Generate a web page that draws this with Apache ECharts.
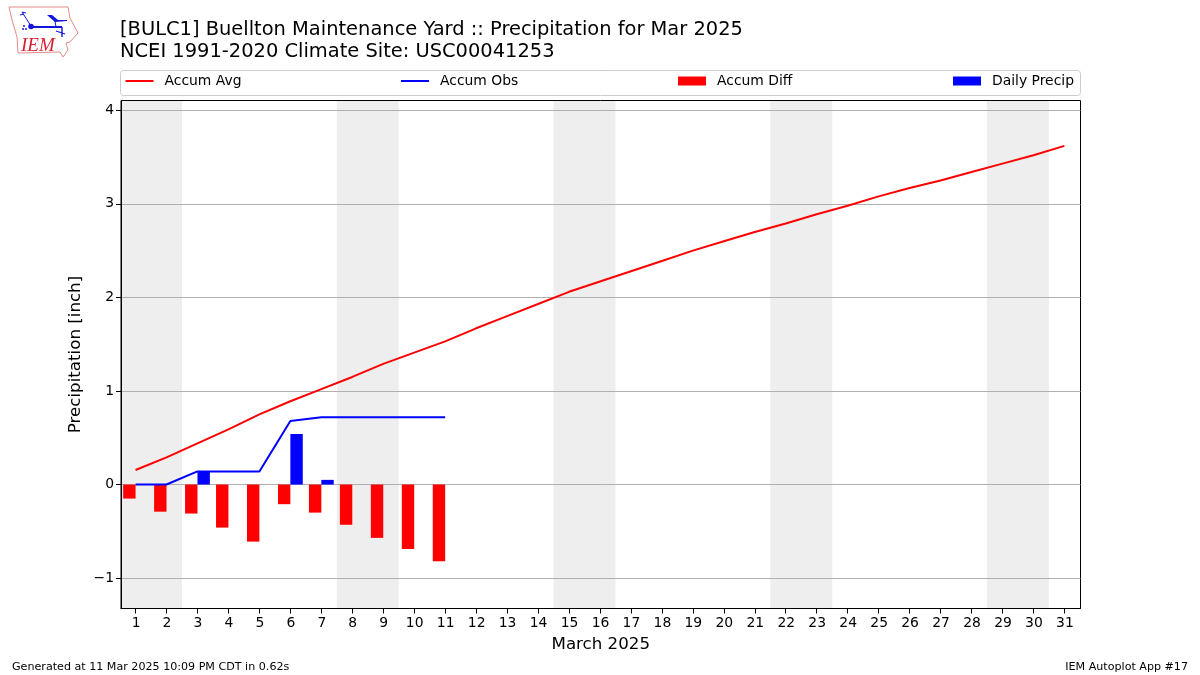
<!DOCTYPE html>
<html>
<head>
<meta charset="utf-8">
<style>html,body{margin:0;padding:0;background:#fff}#c{width:1200px;height:675px}</style>
<script src="https://cdn.jsdelivr.net/npm/echarts@6/dist/echarts.min.js"></script>
</head>
<body>
<div id="c"></div>
<script>
const days = [1,2,3,4,5,6,7,8,9,10,11,12,13,14,15,16,17,18,19,20,21,22,23,24,25,26,27,28,29,30,31];
const accumAvg = [0.155,0.29,0.44,0.59,0.75,0.89,1.02,1.15,1.29,1.41,1.53,1.67,1.80,1.93,2.06,2.17,2.28,2.39,2.50,2.60,2.70,2.79,2.89,2.98,3.08,3.17,3.25,3.34,3.43,3.52,3.62];
const accumObs = [0,0,0.14,0.14,0.14,0.68,0.72,0.72,0.72,0.72,0.72];
const accumDiff = [-0.15,-0.29,-0.31,-0.46,-0.61,-0.21,-0.30,-0.43,-0.57,-0.69,-0.82];
const dailyPrecip = [0,0,0.14,0,0,0.54,0.05,0,0,0,0];
const weekendStarts = [0.53,7.5,14.5,21.5,28.5];
const weekendEnds = [2.5,9.5,16.5,23.5,30.5];
const yTicks = [-1,0,1,2,3,4];
const titleLines = ['[BULC1] Buellton Maintenance Yard :: Precipitation for Mar 2025','NCEI 1991-2020 Climate Site: USC00041253'];
const footerLeft = 'Generated at 11 Mar 2025 10:09 PM CDT in 0.62s';
const footerRight = 'IEM Autoplot App #17';
const xName = 'March 2025';
const yName = 'Precipitation [inch]';

const FONT = '"DejaVu Sans"';
const pair = (xs, ys) => ys.map((v, i) => [xs[i], v]);
const chart = echarts.init(document.getElementById('c'), null, {renderer: 'canvas'});

function legendAt(name, left, isBar, color) {
  return {
    show: true, left: left, top: 74, orient: 'horizontal', padding: 0,
    data: [{name: name, icon: 'rect', itemStyle: {color: color}}],
    itemWidth: 28, itemHeight: isBar ? 9 : 2, itemGap: 0,
    lineStyle: {width: 0},
    textStyle: {fontFamily: FONT, fontSize: 13.9, color: '#000', padding: [2, 0, 0, 6]},
    selectedMode: false
  };
}

const outline = [[9,7],[68,7],[70,18],[78,33],[70,42],[66,43],[68,50],[63,57],[60,52],[18,53],[17,37],[12,20]];
const BLUE = '#1414e0';

const option = {
  animation: false,
  backgroundColor: '#fff',
  grid: {left: 121, right: 119.5, top: 100.5, bottom: 66.5, show: true, z: 2, borderColor: '#000', borderWidth: 1, backgroundColor: 'transparent', containLabel: false},
  title: [
    {text: titleLines[0], left: 120, top: 20, padding: 0, textStyle: {fontFamily: FONT, fontSize: 19.44, fontWeight: 'normal', color: '#000'}},
    {text: titleLines[1], left: 120, top: 42, padding: 0, textStyle: {fontFamily: FONT, fontSize: 19.44, fontWeight: 'normal', color: '#000'}},
    {text: footerLeft, left: 12, top: 662, padding: 0, textStyle: {fontFamily: FONT, fontSize: 11.11, fontWeight: 'normal', color: '#000'}},
    {text: footerRight, right: 12, top: 662, padding: 0, textStyle: {fontFamily: FONT, fontSize: 11.11, fontWeight: 'normal', color: '#000'}}
  ],
  legend: [
    legendAt('Accum Avg', 125.5, false, '#ff0000'),
    legendAt('Accum Obs', 401, false, '#0000ff'),
    legendAt('Accum Diff', 678, true, '#ff0000'),
    legendAt('Daily Precip', 953, true, '#0000ff')
  ],
  xAxis: {
    type: 'value', min: 0.53, max: 31.52, z: 2,
    name: xName, nameLocation: 'middle', nameGap: 28,
    nameTextStyle: {fontFamily: FONT, fontSize: 16.67, color: '#000'},
    axisLine: {show: true, onZero: false, lineStyle: {color: '#000', width: 1}},
    axisTick: {show: true, length: 5, customValues: days, lineStyle: {color: '#000', width: 1}},
    axisLabel: {show: true, customValues: days, fontFamily: FONT, fontSize: 13.9, color: '#000', margin: 8, padding: [0, 0, 0, 1], hideOverlap: false, showMinLabel: true, showMaxLabel: true},
    splitLine: {show: false}
  },
  yAxis: {
    type: 'value', min: -1.325, max: 4.105, z: 2,
    name: yName, nameLocation: 'middle', nameGap: 37, nameRotate: 90, nameMoveOverlap: false,
    nameTextStyle: {fontFamily: FONT, fontSize: 16.67, color: '#000'},
    axisLine: {show: true, onZero: false, lineStyle: {color: '#000', width: 1}},
    axisTick: {show: true, length: 5, customValues: yTicks, lineStyle: {color: '#000', width: 1}},
    axisLabel: {show: true, customValues: yTicks, fontFamily: FONT, fontSize: 13.9, color: '#000', margin: 7, padding: [9, 0, 0, 0],
      formatter: v => (v < 0 ? '\u2212' + Math.abs(v) : String(v))},
    splitLine: {show: true, lineStyle: {color: '#b0b0b0', width: 1, type: 'solid'}}
  },
  series: [
    {
      name: 'Accum Diff', type: 'bar', data: pair(days, accumDiff), barWidth: 12.4, barGap: 0, z: 3,
      itemStyle: {color: '#ff0000'},
      markArea: {
        silent: true, z: 1,
        itemStyle: {color: '#eeeeee', opacity: 1},
        data: weekendStarts.map((s, i) => [{xAxis: s}, {xAxis: weekendEnds[i]}])
      }
    },
    {name: 'Daily Precip', type: 'bar', data: pair(days, dailyPrecip), barWidth: 12.4, barGap: 0, z: 3, itemStyle: {color: '#0000ff'}},
    {name: 'Accum Avg', type: 'line', data: pair(days, accumAvg), symbol: 'none', z: 4, lineStyle: {color: '#ff0000', width: 2}, itemStyle: {color: '#ff0000'}},
    {name: 'Accum Obs', type: 'line', data: pair(days, accumObs), symbol: 'none', z: 4, lineStyle: {color: '#0000ff', width: 2}, itemStyle: {color: '#0000ff'}}
  ],
  graphic: [
    {type: 'rect', shape: {x: 120.5, y: 70.5, width: 960, height: 25, r: 3}, style: {fill: '#fff', stroke: '#cccccc', lineWidth: 1}, z: -1, silent: true},
    {type: 'polygon', shape: {points: outline}, style: {fill: '#fff', stroke: '#e58a8a', lineWidth: 1}, z: 1, silent: true},
    {type: 'polyline', shape: {points: [[31,27],[62,27]]}, style: {fill: null, stroke: BLUE, lineWidth: 2}, z: 2, silent: true},
    {type: 'polygon', shape: {points: [[47,15],[52,15],[58,20],[67,20],[67,21],[55,22]]}, style: {fill: BLUE}, z: 2, silent: true},
    {type: 'polyline', shape: {points: [[55,21],[56,27]]}, style: {fill: null, stroke: BLUE, lineWidth: 1}, z: 2, silent: true},
    {type: 'circle', shape: {cx: 31, cy: 26.5, r: 2.8}, style: {fill: BLUE}, z: 2, silent: true},
    {type: 'polyline', shape: {points: [[31,26],[22,12],[26,13]]}, style: {fill: null, stroke: BLUE, lineWidth: 1}, z: 2, silent: true},
    {type: 'polyline', shape: {points: [[20,15],[24,14]]}, style: {fill: null, stroke: BLUE, lineWidth: 1}, z: 2, silent: true},
    {type: 'polyline', shape: {points: [[62,27],[62,37]]}, style: {fill: null, stroke: BLUE, lineWidth: 1.4}, z: 2, silent: true},
    {type: 'polyline', shape: {points: [[56,31],[65,34]]}, style: {fill: null, stroke: BLUE, lineWidth: 1.2}, z: 2, silent: true},
    {type: 'circle', shape: {cx: 24, cy: 26, r: 1}, style: {fill: BLUE}, z: 2, silent: true},
    {type: 'circle', shape: {cx: 23, cy: 29, r: 1}, style: {fill: BLUE}, z: 2, silent: true},
    {type: 'circle', shape: {cx: 26, cy: 29, r: 1}, style: {fill: BLUE}, z: 2, silent: true},
    {type: 'text', style: {x: 21, y: 36, text: 'IEM', fill: '#d82030', font: 'italic 19px "Liberation Serif"'}, z: 2, silent: true}
  ]
};
chart.setOption(option);
</script>
</body>
</html>
